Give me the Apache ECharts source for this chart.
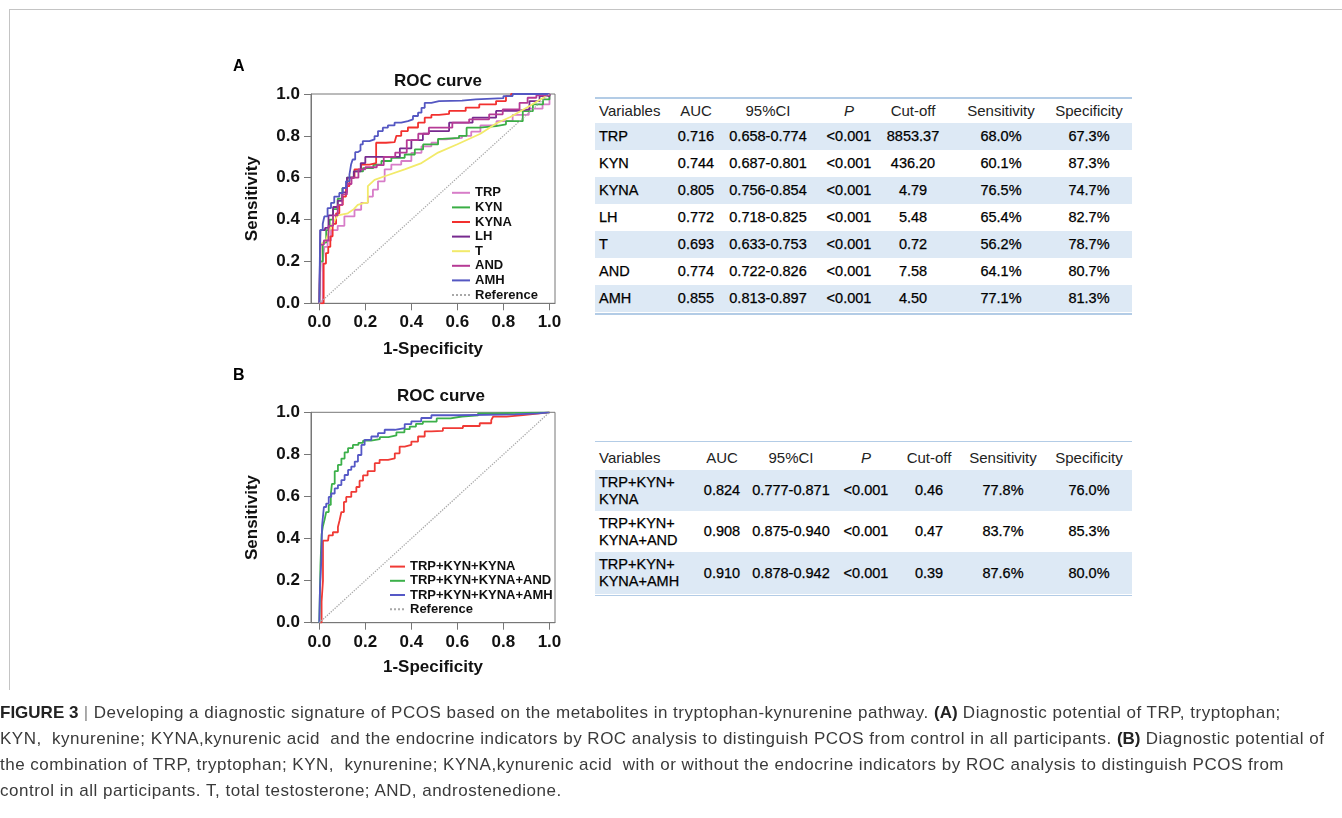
<!DOCTYPE html>
<html><head><meta charset="utf-8">
<script src="https://cdn.jsdelivr.net/npm/echarts/dist/echarts.min.js"></script>
<style>
html,body{margin:0;padding:0;background:#fff;width:1342px;height:818px;overflow:hidden;font-family:Arial,"Liberation Sans",sans-serif;}
#chart{position:absolute;left:0;top:0;width:1342px;height:818px;}
.c{position:absolute;white-space:pre;color:#000;font-size:14.5px;line-height:17px;-webkit-text-stroke:0.25px #000;}
.h{-webkit-text-stroke:0;color:#222;}
.ln{position:absolute;background:#b3cce6;height:1.5px;}
.bd{position:absolute;background:#dde9f5;}
#cap{position:absolute;left:0;top:700px;font-size:17px;letter-spacing:0.5px;line-height:26px;color:#3a3a3a;white-space:pre;}
#cap b{color:#222;letter-spacing:0;}
</style></head><body>
<div style="position:absolute;left:9px;top:9px;width:1333px;height:1px;background:#c4c4c4"></div>
<div style="position:absolute;left:9px;top:9px;width:1px;height:681px;background:#c4c4c4"></div>
<div id="tables"></div>
<div id="chart"></div>
<div id="cap"></div>
<script>
// ---------- Panel A ROC curves: [1-Specificity, Sensitivity] ----------
const trpA = [[0,0],[0.015,0],[0.015,0.2],[0.022,0.27],[0.036,0.3],[0.051,0.35],[0.08,0.37],[0.109,0.415],[0.153,0.447],[0.182,0.48],[0.211,0.51],[0.233,0.543],[0.255,0.583],[0.284,0.64],[0.313,0.663],[0.356,0.68],[0.4,0.719],[0.444,0.75],[0.487,0.767],[0.516,0.783],[0.55,0.79],[0.62,0.8],[0.66,0.82],[0.7,0.85],[0.77,0.87],[0.84,0.9],[0.91,0.93],[0.97,0.95],[1,0.97],[1,1]];
const kynA = [[0,0],[0.005,0],[0.005,0.2],[0.015,0.29],[0.03,0.35],[0.045,0.4],[0.06,0.45],[0.08,0.5],[0.1,0.55],[0.12,0.6],[0.15,0.63],[0.19,0.646],[0.235,0.662],[0.27,0.68],[0.313,0.695],[0.371,0.711],[0.415,0.735],[0.451,0.759],[0.516,0.786],[0.534,0.79],[0.607,0.8],[0.64,0.839],[0.695,0.847],[0.768,0.855],[0.811,0.87],[0.884,0.918],[0.928,0.95],[0.972,0.974],[1,1]];
const kynaA = [[0,0],[0.019,0],[0.019,0.19],[0.029,0.24],[0.039,0.27],[0.048,0.32],[0.058,0.38],[0.073,0.43],[0.087,0.47],[0.102,0.51],[0.116,0.56],[0.131,0.6],[0.153,0.64],[0.182,0.663],[0.218,0.67],[0.247,0.767],[0.29,0.77],[0.327,0.775],[0.335,0.8],[0.356,0.823],[0.385,0.84],[0.429,0.863],[0.458,0.887],[0.487,0.9],[0.52,0.905],[0.564,0.919],[0.636,0.935],[0.695,0.95],[0.768,0.966],[0.811,0.99],[0.833,1],[1,1]];
const lhA = [[0,0],[0.005,0],[0.005,0.35],[0.025,0.36],[0.04,0.42],[0.06,0.46],[0.08,0.49],[0.1,0.53],[0.12,0.6],[0.15,0.63],[0.18,0.67],[0.2,0.7],[0.3,0.7],[0.35,0.74],[0.4,0.78],[0.45,0.81],[0.476,0.823],[0.564,0.863],[0.666,0.887],[0.768,0.919],[0.855,0.927],[0.913,0.966],[0.957,0.99],[1,1]];
const tA = [[0,0],[0.006,0],[0.006,0.28],[0.029,0.3],[0.044,0.35],[0.058,0.38],[0.08,0.42],[0.124,0.43],[0.15,0.45],[0.167,0.47],[0.196,0.48],[0.211,0.48],[0.211,0.56],[0.24,0.59],[0.284,0.607],[0.371,0.64],[0.444,0.67],[0.516,0.72],[0.6,0.76],[0.7,0.81],[0.77,0.86],[0.83,0.89],[0.91,0.94],[1,1]];
const andA = [[0,0],[0.005,0],[0.005,0.28],[0.02,0.3],[0.04,0.37],[0.06,0.42],[0.08,0.47],[0.1,0.52],[0.12,0.57],[0.14,0.6],[0.17,0.64],[0.2,0.65],[0.25,0.66],[0.28,0.7],[0.33,0.72],[0.38,0.78],[0.43,0.81],[0.476,0.839],[0.578,0.863],[0.651,0.879],[0.738,0.903],[0.797,0.927],[0.87,0.958],[0.905,0.982],[0.943,0.993],[1,1]];
const amhA = [[0,0],[0.004,0],[0.004,0.35],[0.015,0.38],[0.022,0.415],[0.036,0.455],[0.051,0.48],[0.065,0.51],[0.087,0.527],[0.102,0.551],[0.116,0.583],[0.131,0.615],[0.138,0.663],[0.145,0.687],[0.156,0.722],[0.167,0.73],[0.179,0.759],[0.189,0.775],[0.218,0.783],[0.24,0.799],[0.255,0.823],[0.276,0.839],[0.298,0.85],[0.327,0.863],[0.356,0.87],[0.385,0.879],[0.407,0.895],[0.429,0.911],[0.444,0.934],[0.458,0.958],[0.487,0.966],[0.52,0.968],[0.62,0.974],[0.68,0.98],[0.8,0.99],[0.84,1],[1,1]];
const refLine = [[0,0],[1,1]];

// ---------- Panel B ROC curves ----------
const kynaB = [[0,0],[0.01,0],[0.01,0.1],[0.016,0.2],[0.016,0.39],[0.038,0.39],[0.041,0.415],[0.059,0.43],[0.081,0.455],[0.088,0.486],[0.096,0.526],[0.107,0.574],[0.117,0.598],[0.139,0.622],[0.161,0.645],[0.175,0.675],[0.19,0.7],[0.21,0.72],[0.241,0.758],[0.262,0.774],[0.299,0.781],[0.328,0.805],[0.349,0.837],[0.371,0.845],[0.4,0.861],[0.429,0.885],[0.458,0.909],[0.487,0.912],[0.537,0.925],[0.624,0.935],[0.697,0.948],[0.747,0.963],[0.755,0.979],[0.813,0.987],[0.885,0.995],[0.957,1],[1,1]];
const andB = [[0,0],[0.005,0],[0.005,0.27],[0.01,0.42],[0.016,0.46],[0.023,0.49],[0.03,0.526],[0.041,0.56],[0.05,0.61],[0.055,0.66],[0.067,0.72],[0.081,0.75],[0.096,0.78],[0.11,0.81],[0.125,0.83],[0.146,0.845],[0.17,0.855],[0.19,0.865],[0.225,0.872],[0.263,0.882],[0.3,0.89],[0.335,0.905],[0.37,0.92],[0.393,0.932],[0.42,0.945],[0.45,0.956],[0.51,0.971],[0.57,0.98],[0.62,0.985],[0.69,0.995],[0.75,1],[1,1]];
const amhB = [[0,0],[0.003,0],[0.003,0.16],[0.009,0.3],[0.012,0.46],[0.02,0.55],[0.03,0.566],[0.041,0.598],[0.052,0.614],[0.067,0.638],[0.081,0.654],[0.096,0.678],[0.11,0.702],[0.125,0.726],[0.139,0.742],[0.154,0.766],[0.168,0.797],[0.183,0.845],[0.197,0.869],[0.226,0.885],[0.255,0.901],[0.284,0.917],[0.328,0.925],[0.371,0.944],[0.4,0.957],[0.443,0.973],[0.487,0.986],[0.6,0.99],[0.85,0.995],[0.95,1],[1,1]];

const axisTicks = [0, 0.2, 0.4, 0.6, 0.8, 1.0];

// ---------- Tables ----------
const headers = ['Variables','AUC','95%CI','P','Cut-off','Sensitivity','Specificity'];
const varsA = ['TRP','KYN','KYNA','LH','T','AND','AMH'];
const aucA = ['0.716','0.744','0.805','0.772','0.693','0.774','0.855'];
const ciA = ['0.658-0.774','0.687-0.801','0.756-0.854','0.718-0.825','0.633-0.753','0.722-0.826','0.813-0.897'];
const pA = ['<0.001','<0.001','<0.001','<0.001','<0.001','<0.001','<0.001'];
const cutA = ['8853.37','436.20','4.79','5.48','0.72','7.58','4.50'];
const sensA = ['68.0%','60.1%','76.5%','65.4%','56.2%','64.1%','77.1%'];
const specA = ['67.3%','87.3%','74.7%','82.7%','78.7%','80.7%','81.3%'];

const varsB = ['TRP+KYN+\nKYNA','TRP+KYN+\nKYNA+AND','TRP+KYN+\nKYNA+AMH'];
const aucB = ['0.824','0.908','0.910'];
const ciB = ['0.777-0.871','0.875-0.940','0.878-0.942'];
const pB = ['<0.001','<0.001','<0.001'];
const cutB = ['0.46','0.47','0.39'];
const sensB = ['77.8%','83.7%','87.6%'];
const specB = ['76.0%','85.3%','80.0%'];

// ---------- build tables (HTML) ----------
const T = document.getElementById('tables');
function add(cls, style, text) {
  const d = document.createElement('div'); d.className = cls;
  Object.assign(d.style, style); if (text !== undefined) d.textContent = text; T.appendChild(d); return d;
}
function cell(text, x, cy, left, extra, cls) {
  const lines = text.split('\n').length;
  const st = {top: (cy - lines * 17 / 2) + 'px'};
  if (left) { st.left = x + 'px'; } else { st.left = (x - 80) + 'px'; st.width = '160px'; st.textAlign = 'center'; }
  Object.assign(st, extra || {});
  return add(cls || 'c', st, text);
}
function buildTable(cfg) {
  const {x0, x1, topLine, bottomLine, headCy, rowTops, rowH, cols, data, shadeRows} = cfg;
  shadeRows.forEach(i => add('bd', {left: x0 + 'px', width: (x1 - x0) + 'px', top: rowTops[i] + 'px', height: rowH[i] + 'px'}));
  add('ln', {left: x0 + 'px', width: (x1 - x0) + 'px', top: topLine + 'px'});
  add('ln', {left: x0 + 'px', width: (x1 - x0) + 'px', top: bottomLine + 'px'});
  headers.forEach((h, j) => cell(h, cols[j], headCy, j === 0, Object.assign({fontSize: '15px'}, j === 3 ? {fontStyle: 'italic'} : {}), 'c h'));
  data[0].forEach((_, i) => {
    const cy = rowTops[i] + rowH[i] / 2;
    data.forEach((col, j) => cell(col[i], cols[j], cy, j === 0));
  });
}
const rA = 27.1, tA0 = 122.7;
buildTable({x0: 595, x1: 1132, topLine: 97, bottomLine: 313, headCy: 110.5,
  rowTops: varsA.map((_, i) => tA0 + i * rA), rowH: varsA.map(() => rA),
  cols: [599, 696, 768, 849, 913, 1001, 1089],
  data: [varsA, aucA, ciA, pA, cutA, sensA, specA], shadeRows: [0, 2, 4, 6]});
buildTable({x0: 595, x1: 1132, topLine: 440.5, bottomLine: 594.5, headCy: 457.5,
  rowTops: [470, 511, 552], rowH: [41, 41, 42],
  cols: [599, 722, 791, 866, 929, 1003, 1089],
  data: [varsB, aucB, ciB, pB, cutB, sensB, specB], shadeRows: [0, 2]});

// ---------- caption ----------
document.getElementById('cap').innerHTML =
'<b>FIGURE 3</b> <span style="color:#888">|</span> Developing a diagnostic signature of PCOS based on the metabolites in tryptophan-kynurenine pathway. <b>(A)</b> Diagnostic potential of TRP, tryptophan;\n' +
'KYN,  kynurenine; KYNA,kynurenic acid  and the endocrine indicators by ROC analysis to distinguish PCOS from control in all participants. <b>(B)</b> Diagnostic potential of\n' +
'the combination of TRP, tryptophan; KYN,  kynurenine; KYNA,kynurenic acid  with or without the endocrine indicators by ROC analysis to distinguish PCOS from\n' +
'control in all participants. T, total testosterone; AND, androstenedione.';

// ---------- chart ----------
const F = 'Arial, "Liberation Sans", sans-serif';
const boldTxt = (s) => ({fontFamily: F, fontWeight: 'bold', fontSize: s, color: '#111'});
function xAx(gi, gap) {
  return {type: 'value', gridIndex: gi, min: -0.036, max: 1.024,
    name: '1-Specificity', nameLocation: 'middle', nameGap: gap, nameTextStyle: boldTxt(17),
    axisLine: {show: true, onZero: false, lineStyle: {color: '#777', width: 1}},
    axisTick: {show: true, customValues: axisTicks, length: 7, lineStyle: {color: '#777'}},
    axisLabel: {customValues: axisTicks, formatter: v => v.toFixed(1), margin: 11, ...boldTxt(17)},
    splitLine: {show: false}};
}
function yAx(gi) {
  return {type: 'value', gridIndex: gi, min: 0, max: 1, interval: 0.2,
    name: 'Sensitivity', nameLocation: 'middle', nameGap: 50, nameTextStyle: boldTxt(17),
    axisLine: {show: true, onZero: false, lineStyle: {color: '#777', width: 1}},
    axisTick: {show: true, length: 7, lineStyle: {color: '#777'}},
    axisLabel: {formatter: v => v.toFixed(1), margin: 11, ...boldTxt(17)},
    splitLine: {show: false}};
}
function ser(name, data, color, gi, extra) {
  return Object.assign({type: 'line', name, data, xAxisIndex: gi, yAxisIndex: gi, symbol: 'none',
    step: 'end', animation: false, silent: true,
    lineStyle: {color, width: 1.8}, itemStyle: {color}}, extra || {});
}
const refStyle = {step: false, lineStyle: {color: '#a8a8a8', width: 1.3, type: 'dotted'}, itemStyle: {color: '#a8a8a8'}};
const legendText = {fontFamily: F, fontWeight: 'bold', fontSize: 13, color: '#111'};

const chart = echarts.init(document.getElementById('chart'), null, {renderer: 'canvas'});
chart.setOption({
  animation: false,
  backgroundColor: 'transparent',
  title: [
    {text: 'A', left: 233, top: 59, padding: 0, textStyle: {fontFamily: F, fontWeight: 'bold', fontSize: 16, color: '#000'}},
    {text: 'ROC curve', left: 394, top: 73, padding: 0, textStyle: boldTxt(17)},
    {text: 'B', left: 233, top: 368, padding: 0, textStyle: {fontFamily: F, fontWeight: 'bold', fontSize: 16, color: '#000'}},
    {text: 'ROC curve', left: 397, top: 388, padding: 0, textStyle: boldTxt(17)}
  ],
  grid: [
    {left: 311, top: 94, width: 244, height: 209.3, show: true, borderColor: '#777', borderWidth: 1, outerBoundsMode: 'none', containLabel: false},
    {left: 311, top: 412.3, width: 244, height: 210.4, show: true, borderColor: '#777', borderWidth: 1, outerBoundsMode: 'none', containLabel: false}
  ],
  xAxis: [xAx(0, 38), xAx(1, 36)],
  yAxis: [yAx(0), yAx(1)],
  legend: [
    {data: ['TRP','KYN','KYNA','LH','T','AND','AMH','Reference'], orient: 'vertical', left: 451, top: 185.5,
     padding: 0, itemGap: 0, itemWidth: 18, itemHeight: 10, selectedMode: false,
     textStyle: Object.assign({lineHeight: 14.6}, legendText), itemStyle: {color: 'rgba(0,0,0,0)', borderWidth: 0}},
    {data: ['TRP+KYN+KYNA','TRP+KYN+KYNA+AND','TRP+KYN+KYNA+AMH','Reference'], orient: 'vertical', left: 389, top: 559.5,
     padding: 0, itemGap: 0, itemWidth: 15, itemHeight: 10, selectedMode: false,
     textStyle: Object.assign({lineHeight: 14.2}, legendText), itemStyle: {color: 'rgba(0,0,0,0)', borderWidth: 0}}
  ],
  series: [
    ser('TRP', trpA, '#d77dc8', 0),
    ser('KYN', kynA, '#3aae45', 0),
    ser('KYNA', kynaA, '#f2302e', 0),
    ser('LH', lhA, '#772a8f', 0),
    ser('T', tA, '#f2ea6a', 0, {step: false}),
    ser('AND', andA, '#b63a95', 0),
    ser('AMH', amhA, '#5457c2', 0),
    ser('Reference', refLine, '#a8a8a8', 0, refStyle),
    ser('TRP+KYN+KYNA', kynaB, '#f03a35', 1),
    ser('TRP+KYN+KYNA+AND', andB, '#3cb04a', 1),
    ser('TRP+KYN+KYNA+AMH', amhB, '#5558c6', 1),
    ser('Reference', refLine, '#a8a8a8', 1, refStyle)
  ]
});
</script>
</body></html>
